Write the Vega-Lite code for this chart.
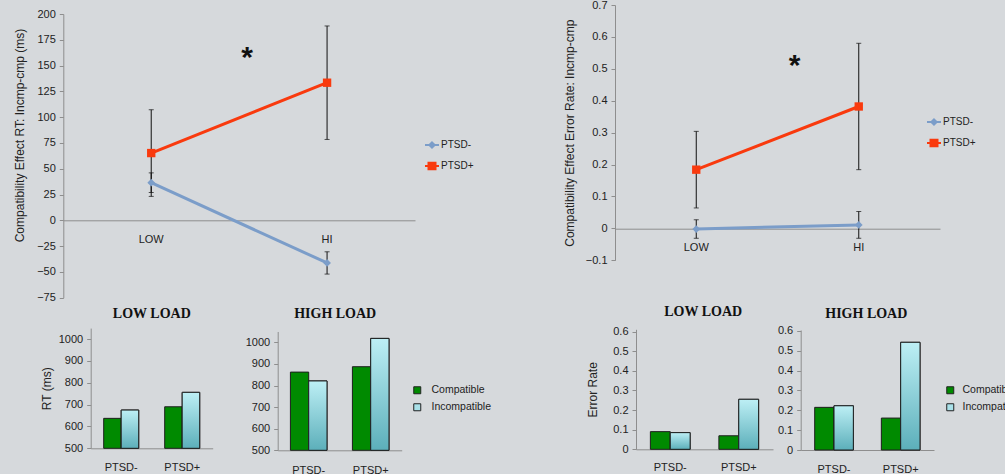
{
  "$schema": "https://vega.github.io/schema/vega-lite/v6.json",
  "width": 1005,
  "height": 474,
  "autosize": {"type": "none"},
  "padding": 0,
  "background": "#d6d9dc",
  "config": {
    "view": {"stroke": null},
    "font": "Liberation Sans",
    "axis": {"domainColor": "#8e8e8e", "tickColor": "#8e8e8e", "tickSize": 4, "labelFontSize": 11, "labelColor": "#222222", "labelFont": "Liberation Sans", "titleFont": "Liberation Sans", "titleFontSize": 12, "titleFontWeight": "normal", "titleColor": "#222222", "grid": false, "labelPadding": 4},
    "legend": {"labelFont": "Liberation Sans", "labelColor": "#222222", "labelFontSize": 10}
  },
  "datasets": {
    "rt_effect": [
      {"load": "LOW", "group": "PTSD-", "value": 36.5, "err": 9.5},
      {"load": "HI", "group": "PTSD-", "value": -41.3, "err": 10.8},
      {"load": "LOW", "group": "PTSD+", "value": 65.2, "err": 42},
      {"load": "HI", "group": "PTSD+", "value": 133.4, "err": 55}
    ],
    "er_effect": [
      {"load": "LOW", "group": "PTSD-", "value": -0.002, "err": 0.029},
      {"load": "HI", "group": "PTSD-", "value": 0.011, "err": 0.042},
      {"load": "LOW", "group": "PTSD+", "value": 0.184, "err": 0.12},
      {"load": "HI", "group": "PTSD+", "value": 0.382, "err": 0.198}
    ],
    "stars": [
      {"chart": "RT", "load": "LOW", "value": 148.3, "label": "*"},
      {"chart": "ER", "load": "LOW", "value": 0.482, "label": "*"}
    ],
    "rt_bars": [
      {"load": "LOW LOAD", "group": "PTSD-", "cond": "Compatible", "value": 637},
      {"load": "LOW LOAD", "group": "PTSD-", "cond": "Incompatible", "value": 675},
      {"load": "LOW LOAD", "group": "PTSD+", "cond": "Compatible", "value": 690},
      {"load": "LOW LOAD", "group": "PTSD+", "cond": "Incompatible", "value": 756},
      {"load": "HIGH LOAD", "group": "PTSD-", "cond": "Compatible", "value": 862},
      {"load": "HIGH LOAD", "group": "PTSD-", "cond": "Incompatible", "value": 821},
      {"load": "HIGH LOAD", "group": "PTSD+", "cond": "Compatible", "value": 887},
      {"load": "HIGH LOAD", "group": "PTSD+", "cond": "Incompatible", "value": 1018}
    ],
    "er_bars": [
      {"load": "LOW LOAD", "group": "PTSD-", "cond": "Compatible", "value": 0.09},
      {"load": "LOW LOAD", "group": "PTSD-", "cond": "Incompatible", "value": 0.085},
      {"load": "LOW LOAD", "group": "PTSD+", "cond": "Compatible", "value": 0.069},
      {"load": "LOW LOAD", "group": "PTSD+", "cond": "Incompatible", "value": 0.255},
      {"load": "HIGH LOAD", "group": "PTSD-", "cond": "Compatible", "value": 0.215},
      {"load": "HIGH LOAD", "group": "PTSD-", "cond": "Incompatible", "value": 0.223},
      {"load": "HIGH LOAD", "group": "PTSD+", "cond": "Compatible", "value": 0.161},
      {"load": "HIGH LOAD", "group": "PTSD+", "cond": "Incompatible", "value": 0.543}
    ]
  },
  "layer": [
    {
      "data": {"name": "rt_effect"},
      "encoding": {
        "x": {"field": "load", "type": "nominal", "sort": ["LOW", "HI"], "scale": {"range": [63.3, 415], "paddingInner": 0, "paddingOuter": 0}, "axis": {"orient": "bottom", "offset": -253.7, "title": null, "labelAngle": 0, "ticks": false, "tickSize": 0, "labelPadding": 13}},
        "y": {"field": "value", "type": "quantitative", "scale": {"domain": [-75, 200], "range": [297.7, 14], "nice": false, "zero": false}, "axis": {"orient": "left", "offset": -63.3, "values": [-75, -50, -25, 0, 25, 50, 75, 100, 125, 150, 175, 200], "format": "d", "title": "Compatibility Effect RT: Incmp-cmp (ms)", "titlePadding": 10, "titleY": 135}}
      },
      "layer": [
        {"mark": {"type": "errorbar", "color": "#111111", "thickness": 1, "ticks": true, "size": 5}, "encoding": {"yError": {"field": "err"}}},
        {"mark": {"type": "line", "strokeWidth": 3}, "encoding": {"color": {"field": "group", "type": "nominal", "scale": {"domain": ["PTSD-", "PTSD+"], "range": ["#7b9dc9", "#f93a0e"]}, "legend": {"orient": "none", "legendX": 424, "legendY": 137, "title": null, "symbolSize": 196, "rowPadding": 6, "labelOffset": 1, "labelFontSize": 10, "encoding": {"symbols": {"shape": {"condition": {"test": "datum.value === 'PTSD+'", "value": "M-1,0H1M-0.5,-0.45H0.5V0.45H-0.5Z"}, "value": "M-1,0H1M0,-0.38L0.38,0L0,0.38L-0.38,0Z"}, "fill": {"condition": {"test": "datum.value === 'PTSD+'", "value": "#f93a0e"}, "value": "#7b9dc9"}, "stroke": {"condition": {"test": "datum.value === 'PTSD+'", "value": "#f93a0e"}, "value": "#7b9dc9"}, "strokeWidth": {"value": 2}}}}}}},
        {"mark": {"type": "point", "filled": true, "opacity": 1}, "encoding": {"shape": {"condition": {"test": "datum.group === 'PTSD+'", "value": "square"}, "value": "diamond"}, "color": {"condition": {"test": "datum.group === 'PTSD+'", "value": "#f93a0e"}, "value": "#7b9dc9"}, "size": {"condition": {"test": "datum.group === 'PTSD+'", "value": 70}, "value": 60}}},
        {"data": {"name": "stars"}, "transform": [{"filter": "datum.chart === 'RT'"}], "mark": {"type": "text", "fontSize": 30, "fontWeight": "bold", "dx": 8, "baseline": "alphabetic", "color": "#111111"}, "encoding": {"x": {"field": "load", "type": "nominal", "sort": ["LOW", "HI"], "bandPosition": 1}, "text": {"field": "label"}}}
      ]
    },
    {
      "data": {"name": "er_effect"},
      "encoding": {
        "x": {"field": "load", "type": "nominal", "sort": ["LOW", "HI"], "scale": {"range": [615, 940], "paddingInner": 0, "paddingOuter": 0}, "axis": {"orient": "bottom", "offset": -245.3, "title": null, "labelAngle": 0, "ticks": false, "tickSize": 0, "labelPadding": 13}},
        "y": {"field": "value", "type": "quantitative", "scale": {"domain": [-0.1, 0.7], "range": [260.3, 5], "nice": false, "zero": false}, "axis": {"orient": "left", "offset": -615, "values": [-0.1, 0, 0.1, 0.2, 0.3, 0.4, 0.5, 0.6, 0.7], "format": ".1~f", "title": "Compatibility Effect Error Rate: Incmp-cmp", "titlePadding": 9}}
      },
      "layer": [
        {"mark": {"type": "errorbar", "color": "#111111", "thickness": 1, "ticks": true, "size": 5}, "encoding": {"yError": {"field": "err"}}},
        {"mark": {"type": "line", "strokeWidth": 3}, "encoding": {"color": {"field": "group", "type": "nominal", "scale": {"domain": ["PTSD-", "PTSD+"], "range": ["#7b9dc9", "#f93a0e"]}, "legend": {"orient": "none", "legendX": 926, "legendY": 114, "title": null, "symbolSize": 196, "rowPadding": 6, "labelOffset": 1, "labelFontSize": 10, "encoding": {"symbols": {"shape": {"condition": {"test": "datum.value === 'PTSD+'", "value": "M-1,0H1M-0.5,-0.45H0.5V0.45H-0.5Z"}, "value": "M-1,0H1M0,-0.38L0.38,0L0,0.38L-0.38,0Z"}, "fill": {"condition": {"test": "datum.value === 'PTSD+'", "value": "#f93a0e"}, "value": "#7b9dc9"}, "stroke": {"condition": {"test": "datum.value === 'PTSD+'", "value": "#f93a0e"}, "value": "#7b9dc9"}, "strokeWidth": {"value": 2}}}}}}},
        {"mark": {"type": "point", "filled": true, "opacity": 1}, "encoding": {"shape": {"condition": {"test": "datum.group === 'PTSD+'", "value": "square"}, "value": "diamond"}, "color": {"condition": {"test": "datum.group === 'PTSD+'", "value": "#f93a0e"}, "value": "#7b9dc9"}, "size": {"condition": {"test": "datum.group === 'PTSD+'", "value": 70}, "value": 60}}},
        {"data": {"name": "stars"}, "transform": [{"filter": "datum.chart === 'ER'"}], "mark": {"type": "text", "fontSize": 30, "fontWeight": "bold", "dx": 17, "baseline": "alphabetic", "color": "#111111"}, "encoding": {"x": {"field": "load", "type": "nominal", "sort": ["LOW", "HI"], "bandPosition": 1}, "text": {"field": "label"}}}
      ]
    },
    {
      "data": {"name": "rt_bars"},
      "transform": [{"filter": "datum.load === 'LOW LOAD'"}],
      "encoding": {
        "x": {"field": "group", "type": "nominal", "sort": ["PTSD-", "PTSD+"], "scale": {"range": [90.7, 212.7], "paddingInner": 0.426, "paddingOuter": 0.213}, "axis": {"orient": "bottom", "offset": -25.7, "labelAngle": 0, "ticks": false, "tickSize": 0, "labelPadding": 13, "title": "LOW LOAD", "titleX": 151.3, "titleY": -135, "titleBaseline": "middle", "titleFont": "Liberation Serif", "titleFontWeight": "bold", "titleFontSize": 14, "titleColor": "#111111"}},
        "xOffset": {"field": "cond", "type": "nominal", "sort": ["Compatible", "Incompatible"]},
        "y": {"field": "value", "type": "quantitative", "scale": {"domain": [500, 1050], "range": [448.3, 328.1], "nice": false, "zero": false}, "axis": {"orient": "left", "offset": -90.7, "values": [500, 600, 700, 800, 900, 1000], "format": "d", "title": "RT (ms)", "titlePadding": 5}},
        "y2": {"datum": 500}
      },
      "layer": [
        {"mark": {"type": "bar", "stroke": "#1e1e1e", "strokeWidth": 1}, "encoding": {"fill": {"field": "cond", "type": "nominal", "scale": {"domain": ["Compatible", "Incompatible"], "range": ["#008a00", "#a9e1e9"]}, "legend": null}}},
        {"transform": [{"filter": "datum.cond === 'Incompatible'"}], "mark": {"type": "bar", "stroke": "#1e1e1e", "strokeWidth": 1, "fill": {"gradient": "linear", "x1": 0, "y1": 0, "x2": 0, "y2": 1, "stops": [{"offset": 0, "color": "#bdeff5"}, {"offset": 1, "color": "#5cafba"}]}}}
      ]
    },
    {
      "data": {"name": "rt_bars"},
      "transform": [{"filter": "datum.load === 'HIGH LOAD'"}],
      "encoding": {
        "x": {"field": "group", "type": "nominal", "sort": ["PTSD-", "PTSD+"], "scale": {"range": [277.7, 401.7], "paddingInner": 0.41, "paddingOuter": 0.205}, "axis": {"orient": "bottom", "offset": -23.7, "labelAngle": 0, "ticks": false, "tickSize": 0, "labelPadding": 14, "title": "HIGH LOAD", "titleX": 334.7, "titleY": -136.6, "titleBaseline": "middle", "titleFont": "Liberation Serif", "titleFontWeight": "bold", "titleFontSize": 14, "titleColor": "#111111"}},
        "xOffset": {"field": "cond", "type": "nominal", "sort": ["Compatible", "Incompatible"]},
        "y": {"field": "value", "type": "quantitative", "scale": {"domain": [500, 1050], "range": [450.3, 331.5], "nice": false, "zero": false}, "axis": {"orient": "left", "offset": -277.7, "values": [500, 600, 700, 800, 900, 1000], "format": "d", "title": null}},
        "y2": {"datum": 500}
      },
      "layer": [
        {"mark": {"type": "bar", "stroke": "#1e1e1e", "strokeWidth": 1}, "encoding": {"fill": {"field": "cond", "type": "nominal", "scale": {"domain": ["Compatible", "Incompatible"], "range": ["#008a00", "#a9e1e9"]}, "legend": {"orient": "none", "legendX": 412, "legendY": 385, "title": null, "symbolType": "square", "symbolSize": 49, "symbolStrokeColor": "#222222", "symbolStrokeWidth": 1, "labelOffset": 9, "labelFontSize": 10.5, "rowPadding": 5}}}},
        {"transform": [{"filter": "datum.cond === 'Incompatible'"}], "mark": {"type": "bar", "stroke": "#1e1e1e", "strokeWidth": 1, "fill": {"gradient": "linear", "x1": 0, "y1": 0, "x2": 0, "y2": 1, "stops": [{"offset": 0, "color": "#bdeff5"}, {"offset": 1, "color": "#5cafba"}]}}}
      ]
    },
    {
      "data": {"name": "er_bars"},
      "transform": [{"filter": "datum.load === 'LOW LOAD'"}],
      "encoding": {
        "x": {"field": "group", "type": "nominal", "sort": ["PTSD-", "PTSD+"], "scale": {"range": [636, 773], "paddingInner": 0.42, "paddingOuter": 0.21}, "axis": {"orient": "bottom", "offset": -24.7, "labelAngle": 0, "ticks": false, "tickSize": 0, "labelPadding": 12, "title": "LOW LOAD", "titleX": 702.7, "titleY": -137.6, "titleBaseline": "middle", "titleFont": "Liberation Serif", "titleFontWeight": "bold", "titleFontSize": 14, "titleColor": "#111111"}},
        "xOffset": {"field": "cond", "type": "nominal", "sort": ["Compatible", "Incompatible"]},
        "y": {"field": "value", "type": "quantitative", "scale": {"domain": [0, 0.612], "range": [449.3, 329.3], "nice": false, "zero": false}, "axis": {"orient": "left", "offset": -636, "values": [0, 0.1, 0.2, 0.3, 0.4, 0.5, 0.6], "format": ".1~f", "title": "Error Rate", "titlePadding": 13}},
        "y2": {"datum": 0}
      },
      "layer": [
        {"mark": {"type": "bar", "stroke": "#1e1e1e", "strokeWidth": 1}, "encoding": {"fill": {"field": "cond", "type": "nominal", "scale": {"domain": ["Compatible", "Incompatible"], "range": ["#008a00", "#a9e1e9"]}, "legend": null}}},
        {"transform": [{"filter": "datum.cond === 'Incompatible'"}], "mark": {"type": "bar", "stroke": "#1e1e1e", "strokeWidth": 1, "fill": {"gradient": "linear", "x1": 0, "y1": 0, "x2": 0, "y2": 1, "stops": [{"offset": 0, "color": "#bdeff5"}, {"offset": 1, "color": "#5cafba"}]}}}
      ]
    },
    {
      "data": {"name": "er_bars"},
      "transform": [{"filter": "datum.load === 'HIGH LOAD'"}],
      "encoding": {
        "x": {"field": "group", "type": "nominal", "sort": ["PTSD-", "PTSD+"], "scale": {"range": [800.7, 934], "paddingInner": 0.42, "paddingOuter": 0.21}, "axis": {"orient": "bottom", "offset": -24, "labelAngle": 0, "ticks": false, "tickSize": 0, "labelPadding": 13, "title": "HIGH LOAD", "titleX": 865.8, "titleY": -136.7, "titleBaseline": "middle", "titleFont": "Liberation Serif", "titleFontWeight": "bold", "titleFontSize": 14, "titleColor": "#111111"}},
        "xOffset": {"field": "cond", "type": "nominal", "sort": ["Compatible", "Incompatible"]},
        "y": {"field": "value", "type": "quantitative", "scale": {"domain": [0, 0.605], "range": [450, 330], "nice": false, "zero": false}, "axis": {"orient": "left", "offset": -800.7, "values": [0, 0.1, 0.2, 0.3, 0.4, 0.5, 0.6], "format": ".1~f", "title": null}},
        "y2": {"datum": 0}
      },
      "layer": [
        {"mark": {"type": "bar", "stroke": "#1e1e1e", "strokeWidth": 1}, "encoding": {"fill": {"field": "cond", "type": "nominal", "scale": {"domain": ["Compatible", "Incompatible"], "range": ["#008a00", "#a9e1e9"]}, "legend": {"orient": "none", "legendX": 945, "legendY": 385, "title": null, "symbolType": "square", "symbolSize": 49, "symbolStrokeColor": "#222222", "symbolStrokeWidth": 1, "labelOffset": 7, "labelFontSize": 10.5, "rowPadding": 5}}}},
        {"transform": [{"filter": "datum.cond === 'Incompatible'"}], "mark": {"type": "bar", "stroke": "#1e1e1e", "strokeWidth": 1, "fill": {"gradient": "linear", "x1": 0, "y1": 0, "x2": 0, "y2": 1, "stops": [{"offset": 0, "color": "#bdeff5"}, {"offset": 1, "color": "#5cafba"}]}}}
      ]
    }
  ],
  "resolve": {
    "scale": {"x": "independent", "y": "independent", "xOffset": "independent", "fill": "independent", "color": "independent"},
    "axis": {"x": "independent", "y": "independent"},
    "legend": {"fill": "independent", "color": "independent"}
  }
}
